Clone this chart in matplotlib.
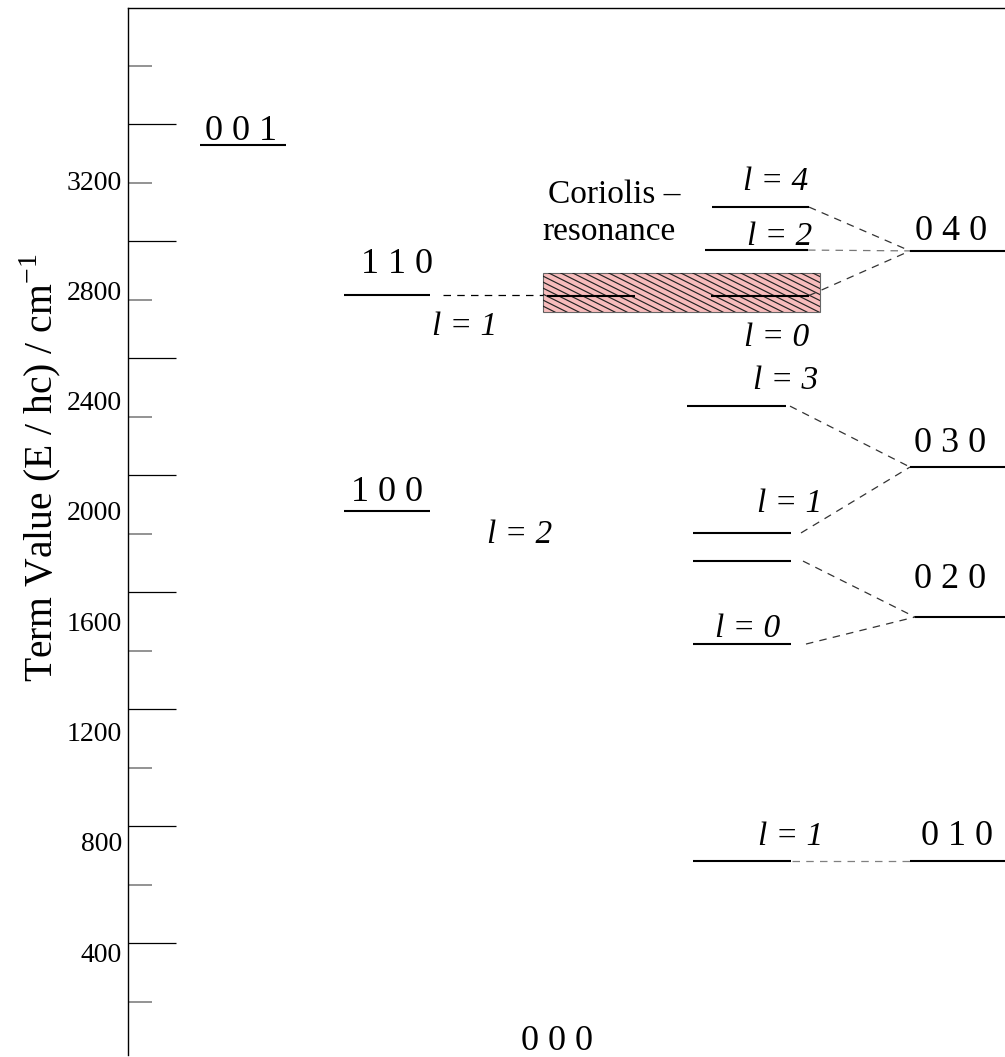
import numpy as np
import matplotlib.pyplot as plt
from matplotlib.ticker import MultipleLocator
from matplotlib.patches import Rectangle

# vibrational states of CO2 (v1 v2 v3) and term values in cm^-1
states = ['0 0 0', '0 1 0', '0 2 0', '0 3 0', '0 4 0', '1 0 0', '1 1 0', '0 0 1']
term_values = [0, 730, 1615, 2159, 2943, 2000, 2783, 3326]

# l-sublevels of the bending overtones
sub_parent = ['0 1 0', '0 2 0', '0 2 0', '0 3 0', '0 3 0', '0 4 0', '0 4 0', '0 4 0']
sub_labels = ['l = 1', 'l = 0', '', 'l = 1', 'l = 3', 'l = 0', 'l = 2', 'l = 4']
sub_values = [730, 1517, 1818, 1920, 2380, 2781, 2946, 3102]

# Coriolis resonance band (lower, upper)
resonance = [2721, 2863]

tick_values = [400, 800, 1200, 1600, 2000, 2400, 2800, 3200]

plt.rcParams['font.family'] = 'Liberation Serif'
plt.rcParams['mathtext.fontset'] = 'custom'
plt.rcParams['mathtext.rm'] = 'Liberation Serif'

W, H = 1005, 1057
fig = plt.figure(figsize=(W / 100, H / 100), dpi=100)
ax = fig.add_axes([128 / W, 2 / H, 882 / W, 1047 / H])
ax.set_xlim(128, 1010)
ax.set_ylim(26.5, 3824)

for s in ['right', 'bottom']:
    ax.spines[s].set_visible(False)
for s in ['left', 'top']:
    ax.spines[s].set_linewidth(1.0)

ax.set_xticks([])
ax.yaxis.set_major_locator(MultipleLocator(424.4, offset=431.6))
ax.yaxis.set_minor_locator(MultipleLocator(424.4, offset=218.7))
ax.tick_params(axis='y', which='major', direction='in', length=34.5, width=0.9,
               color='black', labelleft=False)
ax.tick_params(axis='y', which='minor', direction='in', length=17.3, width=1.2,
               color='#808080', labelleft=False)
for v in tick_values:
    ax.text(-0.007, v, str(v), transform=ax.get_yaxis_transform(),
            ha='right', va='center_baseline', fontsize=20)

fig.text(40 / W, 1 - 468 / H, 'Term Value (E / hc) / cm$^{-1}$', rotation=90,
         ha='center', va='center', fontsize=28.5)

E = dict(zip(states, term_values))

# layout: x span of level line, label centre x, label baseline offset (px above line)
state_span = {'0 0 1': (200, 286), '1 1 0': (344, 430), '1 0 0': (344, 430),
              '0 4 0': (910, 1010), '0 3 0': (910, 1010), '0 2 0': (915, 1010),
              '0 1 0': (910, 1010)}
state_lab = {'0 0 1': (241, 5), '1 1 0': (397, 22), '1 0 0': (387, 10),
             '0 4 0': (951, 11), '0 3 0': (950, 15), '0 2 0': (950, 29),
             '0 1 0': (957, 16), '0 0 0': (557, 12)}
sub_span = [(693, 791), (693, 791), (693, 791), (693, 791), (687, 786),
            (711, 809), (705, 808), (712, 809)]
sub_lab = [(791, 16), (748, 7), None, (790, 21), (786, 17), (777, -50),
           (780, 5), (776, 17)]
sub_gap = [1, 15, 12, 10, 4, 0, 0, 0]
sub_dash = ['#808080', '#333333', '#333333', '#333333', '#333333', '#333333',
            '#777777', '#333333']

lvl = dict(color='black', lw=1.5, solid_capstyle='butt', zorder=3)
dash = dict(lw=0.9, ls=(0, (6, 5)), zorder=2)
lab = dict(ha='center', va='baseline', textcoords='offset pixels',
           annotation_clip=False)

for st in states:
    if st in state_span:
        ax.plot(state_span[st], [E[st], E[st]], **lvl)
    cx, dy = state_lab[st]
    ax.annotate(st, xy=(cx, E[st]), xytext=(0, dy), fontsize=26, **lab)

# resonance box
rect = Rectangle((543, resonance[0]), 820 - 543, resonance[1] - resonance[0],
                 facecolor='#f7bcbc', edgecolor='#666666', lw=0.8, zorder=1)
ax.add_patch(rect)
fig.canvas.draw()
px_per_val = (ax.transData.transform((0, 1000))[1] - ax.transData.transform((0, 0))[1]) / 1000
box_h_px = (resonance[1] - resonance[0]) * px_per_val
run = box_h_px / 0.5
for u in np.arange(543 - run, 820, 12):
    ln, = ax.plot([u, u + run], [resonance[1], resonance[0]], color='#222222',
                  lw=0.85, zorder=1.5)
    ln.set_clip_path(rect)

# sublevels and correlation lines
for p, lb, v, (x0, x1), ll, g, c in zip(sub_parent, sub_labels, sub_values,
                                         sub_span, sub_lab, sub_gap, sub_dash):
    ax.plot([x0, x1], [v, v], **lvl)
    if lb == 'l = 0' and p == '0 4 0':
        ax.plot([547, 635], [v, v], **lvl)
    ax.plot([x1 + g, state_span[p][0]], [v, E[p]], color=c, **dash)
    if ll is not None:
        ax.annotate(lb, xy=(ll[0], v), xytext=(0, ll[1]), fontsize=24,
                    style='italic', **lab)

# 1 1 0 coupled into the resonance
ax.plot([443, 543], [E['1 1 0'], E['1 1 0']], color='black', **dash)
ax.annotate('l = 1', xy=(465, E['1 1 0']), xytext=(0, -40), fontsize=24,
            style='italic', **lab)
ax.annotate('l = 2', xy=(520, E['1 0 0']), xytext=(0, -32), fontsize=24,
            style='italic', **lab)

ax.annotate('Coriolis \u2013', xy=(614, resonance[1]), xytext=(0, 70), fontsize=24, **lab)
ax.annotate('resonance', xy=(609, resonance[1]), xytext=(0, 33), fontsize=24, **lab)

fig.savefig('out.png', dpi=100)
